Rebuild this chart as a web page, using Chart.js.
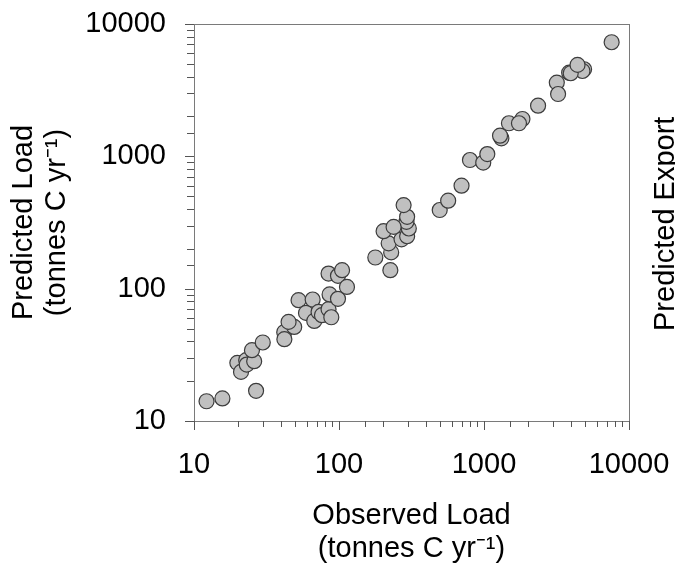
<!DOCTYPE html>
<html>
<head>
<meta charset="utf-8">
<script src="https://cdn.jsdelivr.net/npm/chart.js@4"></script>
<style>
  html, body { margin: 0; padding: 0; background: #fff; }
  #wrap { width: 675px; height: 570px; position: relative; }
</style>
</head>
<body>
<div id="wrap"><canvas id="chart"></canvas></div>
<script>
// Observed vs predicted load (tonnes C / yr)
const observed = [12.2, 15.7, 26.8, 19.9, 21.1, 22.9, 23.1, 26, 25.1, 29.8,
  41.9, 42, 49.1, 44.9, 52.6, 59.2, 65.8, 67.5, 72.3, 76.3,
  84.7, 88.5, 86.1, 98.4, 84.7, 98.4, 105, 113.5, 178, 226,
  229, 220, 203, 270, 295, 303, 292, 295, 279, 238,
  495, 566, 700, 800, 988, 1054, 1318, 1290, 1486, 1841,
  1742, 2360, 3177, 3243, 3866, 4900, 4775, 3963, 4416, 7590];
const predicted = [14.1, 14.8, 16.9, 27.5, 23.5, 28.8, 26.7, 28.3, 34.3, 39.2,
  46.9, 41.5, 51.4, 56.1, 81.8, 65.6, 82.8, 57, 66.7, 63,
  70, 60.8, 90.4, 83.8, 130, 125, 138, 103, 172, 138,
  188, 220, 272, 236, 249, 285, 320, 349, 428, 293,
  393, 462, 600, 938, 896, 1040, 1368, 1432, 1778, 1915,
  1778, 2415, 3606, 2958, 4285, 4550, 4415, 4245, 4910, 7280];
const decadeTicks = [10, 100, 1000, 10000];

const FONT = "'Liberation Sans', Arial, sans-serif";
Chart.defaults.font.family = FONT;
Chart.defaults.color = '#000';

const points = observed.map((x, i) => ({ x, y: predicted[i] }));

// frame + outward tick marks (major / minor) + cut-off neighbour panel label
const framePlugin = {
  id: 'frame',
  afterDraw(chart) {
    const { ctx, chartArea: a, scales } = chart;
    ctx.save();
    ctx.strokeStyle = '#7a7a7a';
    ctx.lineWidth = 1;
    ctx.strokeRect(a.left + 0.5, a.top + 0.5, a.right - a.left, a.bottom - a.top);

    const isMajor = v => decadeTicks.includes(v);
    ctx.strokeStyle = '#555';
    ctx.beginPath();
    for (const t of scales.x.ticks) {
      const px = Math.round(scales.x.getPixelForValue(t.value)) + 0.5;
      const len = isMajor(t.value) ? 9 : 6;
      ctx.moveTo(px, a.bottom);
      ctx.lineTo(px, a.bottom + len);
    }
    for (const t of scales.y.ticks) {
      const py = Math.round(scales.y.getPixelForValue(t.value)) + 0.5;
      const len = isMajor(t.value) ? 9 : 7;
      ctx.moveTo(a.left, py);
      ctx.lineTo(a.left - len, py);
    }
    ctx.stroke();

    ctx.fillStyle = '#000';
    ctx.font = '29px ' + FONT;
    ctx.translate(674, 331);
    ctx.rotate(-Math.PI / 2);
    ctx.textAlign = 'left';
    ctx.textBaseline = 'alphabetic';
    ctx.fillText('Predicted Export', 0, 0);
    ctx.restore();
  }
};

const tickLabel = v => decadeTicks.includes(v) ? String(v) : '';

new Chart(document.getElementById('chart'), {
  type: 'scatter',
  data: {
    datasets: [{
      data: points,
      pointRadius: 7.5,
      pointHoverRadius: 7.5,
      pointBackgroundColor: '#c0c0c0',
      pointBorderColor: '#3c3c3c',
      pointBorderWidth: 1.2
    }]
  },
  options: {
    responsive: true,
    maintainAspectRatio: false,
    animation: false,
    layout: { padding: { left: 0, right: 46, top: 24, bottom: 0 } },
    plugins: { legend: { display: false }, tooltip: { enabled: false } },
    scales: {
      x: {
        type: 'logarithmic',
        min: 10, max: 10000,
        grid: { display: false, drawTicks: false },
        border: { display: false },
        ticks: { callback: tickLabel, autoSkip: false, maxRotation: 0, padding: 27, font: { size: 29 } },
        title: {
          display: true,
          text: ['Observed Load', '(tonnes C yr\u207B\u00B9)'],
          font: { size: 29, lineHeight: 1.14 },
          padding: { top: 0, bottom: 4 }
        },
        afterFit(s) { s.height = 149; s.paddingLeft = 0; s.paddingRight = 0; }
      },
      y: {
        type: 'logarithmic',
        min: 10, max: 10000,
        grid: { display: false, drawTicks: false },
        border: { display: false },
        ticks: { callback: tickLabel, autoSkip: false, padding: 28, font: { size: 29 } },
        title: {
          display: true,
          text: ['Predicted Load', '(tonnes C yr\u207B\u00B9)'],
          font: { size: 29, lineHeight: 1.14 },
          padding: { top: 7, bottom: 0 }
        },
        afterFit(s) { s.width = 194; s.paddingTop = 0; s.paddingBottom = 0; }
      }
    }
  },
  plugins: [framePlugin]
});
</script>
</body>
</html>
